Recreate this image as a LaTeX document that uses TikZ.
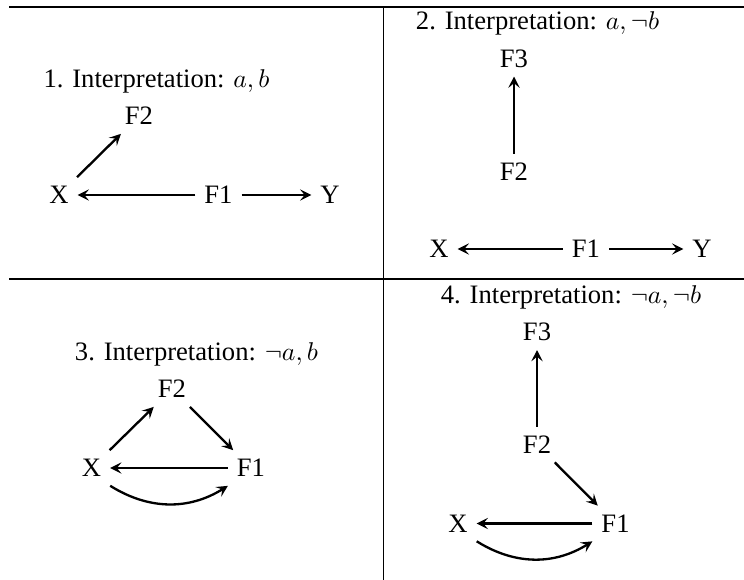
\documentclass[tikz,border=0pt]{standalone}
\usepackage{fontspec}
\setmainfont{Liberation Serif}
\usetikzlibrary{arrows.meta}
\begin{document}
\begin{tikzpicture}[x=0.389pt,y=0.389pt,
  lbl/.style={inner sep=0.333em, font=\fontsize{10.35pt}{12pt}\selectfont},
  ttl/.style={anchor=base, inner sep=0pt, font=\fontsize{10.35pt}{12pt}\selectfont},
  arr/.style={-{Stealth[length=4.4pt,width=4.4pt,inset=1.8pt]}, line width=0.9pt},
  rule/.style={line width=0.4pt}]
\useasboundingbox (0,0) rectangle (744,-580);
% rules
\coordinate (tl) at (9,-7);
\coordinate (tr) at (744,-7);
\coordinate (ml) at (9,-279);
\coordinate (mr) at (744,-279);
\coordinate (vt) at (383.5,-7);
\coordinate (vb) at (383.5,-580);
\draw[rule] (tl) -- (tr);
\draw[rule] (ml) -- (mr);
\draw[rule] (vt) -- (vb);

% Panel 1
\node[ttl] (t1) at (156.5,-88) {1. Interpretation: $a, b$};
\node[lbl] (p1F2) at (139,-116) {F2};
\node[lbl] (p1X) at (59,-195) {X};
\node[lbl] (p1F1) at (218.5,-195) {F1};
\node[lbl] (p1Y) at (330,-195) {Y};
\draw[arr] (p1X) -- (p1F2);
\draw[arr] (p1F1) -- (p1X);
\draw[arr] (p1F1) -- (p1Y);

% Panel 2
\node[ttl] (t2) at (537.5,-30) {2. Interpretation: $a, \neg b$};
\node[lbl] (p2F3) at (514,-58.5) {F3};
\node[lbl] (p2F2) at (514,-171.5) {F2};
\node[lbl] (p2X) at (439,-249) {X};
\node[lbl] (p2F1) at (586,-249) {F1};
\node[lbl] (p2Y) at (702,-249) {Y};
\draw[arr] (p2F2) -- (p2F3);
\draw[arr] (p2F1) -- (p2X);
\draw[arr] (p2F1) -- (p2Y);

% Panel 3
\node[ttl] (t3) at (196.5,-360) {3. Interpretation: $\neg a, b$};
\node[lbl] (p3F2) at (172,-389) {F2};
\node[lbl] (p3X) at (91.5,-468) {X};
\node[lbl] (p3F1) at (251,-468) {F1};
\draw[arr] (p3X) -- (p3F2);
\draw[arr] (p3F2) -- (p3F1);
\draw[arr] (p3F1) -- (p3X);
\draw[arr] (p3X.south east) to[bend right=32] (p3F1.south west);

% Panel 4
\node[ttl] (t4) at (571,-303) {4. Interpretation: $\neg a, \neg b$};
\node[lbl] (p4F3) at (537,-332) {F3};
\node[lbl] (p4F2) at (537,-444.5) {F2};
\node[lbl] (p4X) at (458,-523.5) {X};
\node[lbl] (p4F1) at (615.5,-523.5) {F1};
\draw[arr] (p4F2) -- (p4F3);
\draw[arr] (p4F2) -- (p4F1);
\draw[arr] (p4F1) -- (p4X);
\draw[arr] (p4X.south east) to[bend right=32] (p4F1.south west);
\end{tikzpicture}
\end{document}
